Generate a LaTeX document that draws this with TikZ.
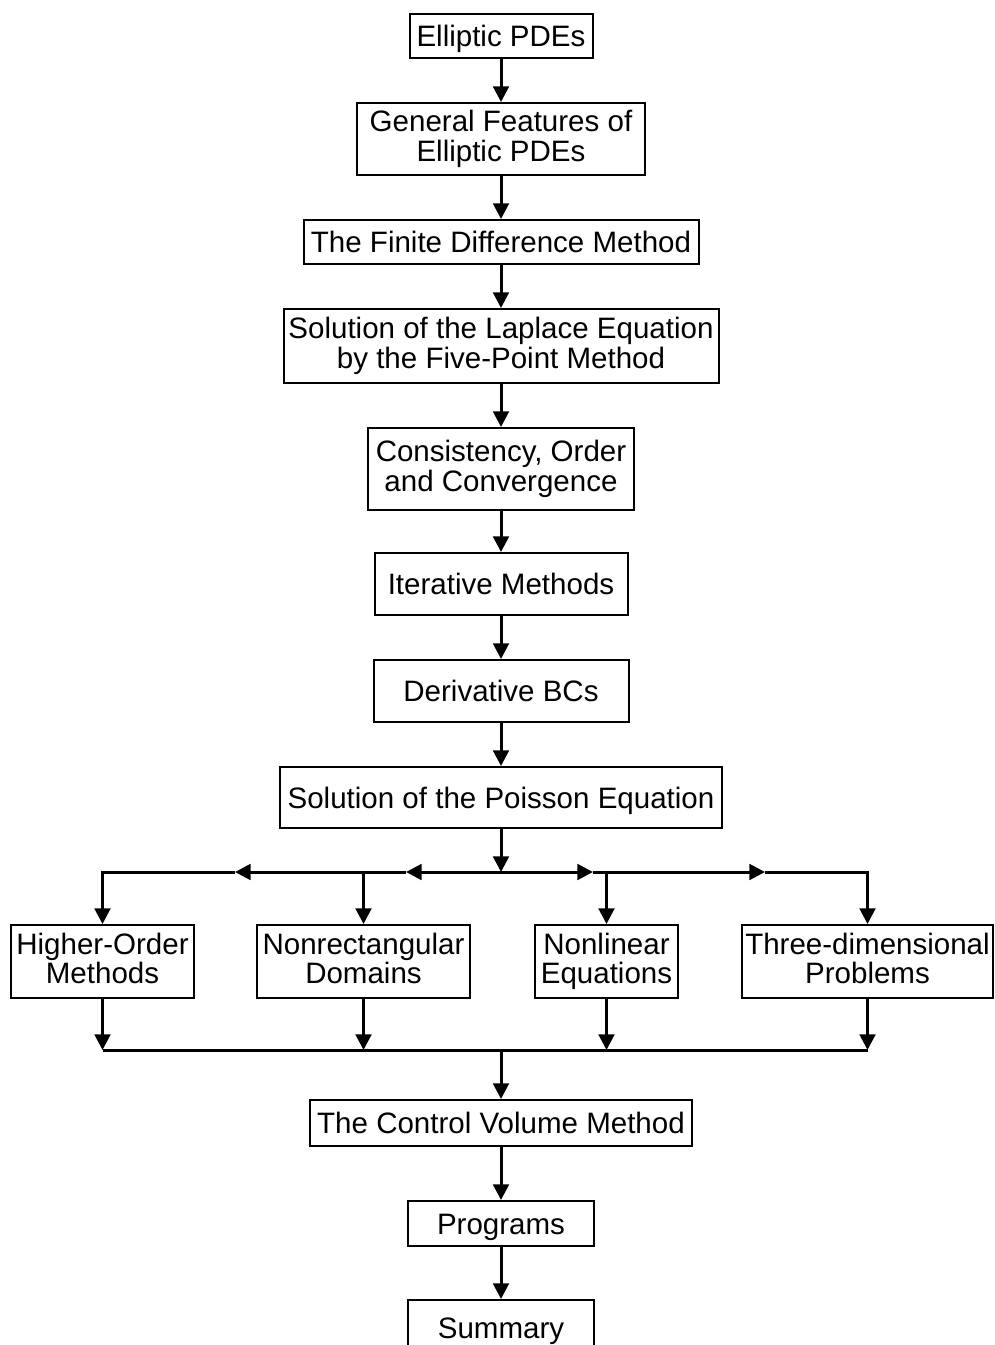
\documentclass[tikz,border=0pt]{standalone}
\usepackage{fontspec}
\setmainfont{Liberation Sans}
\usetikzlibrary{arrows.meta}
\newcommand{\pxu}{0.25mm}

\begin{document}
\begin{tikzpicture}[x=\pxu, y=-\pxu,
        box/.style={draw, line width=0.5mm, align=center, inner sep=0pt,
            font=\fontsize{21}{20.8}\selectfont,
            execute at begin node=\rule{0pt}{0.93em},
            execute at end node=\rule[-0.214em]{0pt}{0.214em}},
        flow/.style={line width=0.75mm, -{Triangle[length=3.9mm, width=3.9mm]}},
        wire/.style={line width=0.75mm}]
        \useasboundingbox (0,0) rectangle (995,1345);
        \clip (0,0) rectangle (995,1345);

        \node[box, minimum width=183*\pxu, minimum height=44*\pxu] (pdes) at (501,36) {Elliptic PDEs};
        \node[box, minimum width=288*\pxu, minimum height=72*\pxu] (feat) at (501,139) {General Features of\\Elliptic PDEs};
        \node[box, minimum width=395*\pxu, minimum height=44*\pxu] (fdm) at (501,242) {The Finite Difference Method};
        \node[box, minimum width=435*\pxu, minimum height=74*\pxu] (lapl) at (501,346) {Solution of the Laplace Equation\\by the Five-Point Method};
        \node[box, minimum width=266*\pxu, minimum height=82*\pxu] (cons) at (501,469) {Consistency, Order\\and Convergence};
        \node[box, minimum width=253*\pxu, minimum height=62*\pxu] (iter) at (501,584) {Iterative Methods};
        \node[box, minimum width=255*\pxu, minimum height=62*\pxu] (dbc) at (501,691) {Derivative BCs};
        \node[box, minimum width=442*\pxu, minimum height=61*\pxu] (pois) at (501,797.5) {Solution of the Poisson Equation};

        \node[box, minimum width=183*\pxu, minimum height=73*\pxu] (hom) at (102.5,961.5) {Higher-Order\\Methods};
        \node[box, minimum width=213*\pxu, minimum height=73*\pxu] (nrd) at (363.5,961.5) {Nonrectangular\\Domains};
        \node[box, minimum width=143*\pxu, minimum height=73*\pxu] (nle) at (606.5,961.5) {Nonlinear\\Equations};
        \node[box, minimum width=251*\pxu, minimum height=73*\pxu] (tdp) at (867.5,961.5) {Three-dimensional\\Problems};

        \node[box, minimum width=382*\pxu, minimum height=46*\pxu] (cvm) at (501,1123) {The Control Volume Method};
        \node[box, minimum width=186*\pxu, minimum height=45*\pxu] (prog) at (501,1223.5) {Programs};
        \node[box, minimum width=186*\pxu, minimum height=56*\pxu] (summ) at (501,1328) {Summary};

        \draw[flow] (pdes) -- (feat);
        \draw[flow] (feat) -- (fdm);
        \draw[flow] (fdm) -- (lapl);
        \draw[flow] (lapl) -- (cons);
        \draw[flow] (cons) -- (iter);
        \draw[flow] (iter) -- (dbc);
        \draw[flow] (dbc) -- (pois);

        % branching
        \coordinate (split) at (501,872);
        \coordinate (l1) at (235,872);
        \coordinate (l2) at (406,872);
        \coordinate (r1) at (593,872);
        \coordinate (r2) at (765,872);
        \draw[flow] (pois) -- (split);
        \draw[flow] (split) -- (l2);
        \draw[flow] (l2) -- (l1);
        \draw[flow] (l1) -| (hom);
        \draw[flow] (l2) -| (nrd);
        \draw[flow] (split) -- (r1);
        \draw[flow] (r1) -- (r2);
        \draw[flow] (r1) -| (nle);
        \draw[flow] (r2) -| (tdp);

        % merging
        \coordinate (merge) at (501,1050);
        \draw[flow] (hom) -- (hom |- merge);
        \draw[flow] (nrd) -- (nrd |- merge);
        \draw[flow] (nle) -- (nle |- merge);
        \draw[flow] (tdp) -- (tdp |- merge);
        \draw[wire] (hom |- merge) -- (tdp |- merge);
        \draw[flow] (merge) -- (cvm);

        \draw[flow] (cvm) -- (prog);
        \draw[flow] (prog) -- (summ);
\end{tikzpicture}
\end{document}
